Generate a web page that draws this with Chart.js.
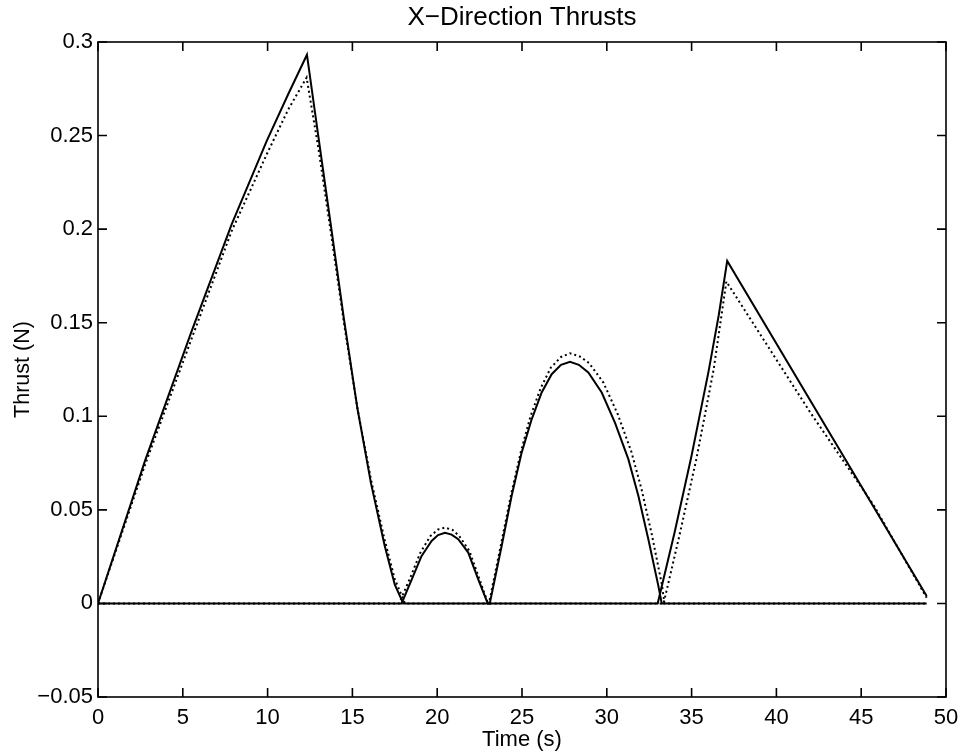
<!DOCTYPE html>
<html>
<head>
<meta charset="utf-8">
<title>X-Direction Thrusts</title>
<script src="https://cdn.jsdelivr.net/npm/chart.js@4.4.1/dist/chart.umd.min.js"></script>
<style>
    html, body { margin: 0; padding: 0; background: #fff; }
    #wrap { width: 962px; height: 753px; position: relative; }
</style>
</head>
<body>
<div id="wrap"><canvas id="thrustChart"></canvas></div>
<script>
// Thruster firing the +X way (solid) and its commanded value (dotted)
const timeA   = [0, 2.77, 5.5, 7.88, 9.95, 11.22, 12.32, 13.0, 13.7, 14.5, 15.3, 16.1, 16.9, 17.5, 18.0,
                 23.1, 23.8, 24.39, 24.98, 25.57, 26.16, 26.75, 27.3, 27.83, 28.35, 28.91, 29.7, 30.48, 31.27, 31.86, 32.45, 33.04, 33.24, 48.86];
const thrustA = [0, 0.0762, 0.145, 0.2025, 0.2472, 0.2722, 0.2932, 0.249, 0.204, 0.152, 0.104, 0.064, 0.031, 0.01, 0,
                 0, 0.0307, 0.0575, 0.0806, 0.0984, 0.1127, 0.1225, 0.1275, 0.1291, 0.1275, 0.1234, 0.1127, 0.0966, 0.0771, 0.0575, 0.0343, 0.0094, 0, 0];

const cmdTimeA = [0, 2.77, 5.5, 7.88, 9.95, 11.22, 12.3, 13.0, 13.7, 14.5, 15.3, 16.1, 16.9, 17.5, 18.1,
                  23.05, 23.75, 24.35, 24.93, 25.5, 26.1, 26.7, 27.3, 27.83, 28.4, 28.95, 29.8, 30.65, 31.45, 32.05, 32.65, 33.25, 33.4, 48.86];
const cmdA     = [0, 0.074, 0.141, 0.199, 0.240, 0.264, 0.281, 0.243, 0.200, 0.150, 0.104, 0.066, 0.034, 0.013, 0,
                  0, 0.031, 0.058, 0.081, 0.100, 0.115, 0.126, 0.1317, 0.1337, 0.132, 0.1285, 0.118, 0.101, 0.081, 0.061, 0.037, 0.010, 0, 0];

// Thruster firing the -X way, plotted as a magnitude
const timeB   = [0, 17.9, 18.5, 19.08, 19.67, 20.05, 20.46, 20.85, 21.24, 21.83, 22.42, 22.98,
                 33.0, 34.0, 35.0, 36.0, 36.6, 37.1, 48.86];
const thrustB = [0, 0, 0.0129, 0.0254, 0.0334, 0.0365, 0.0378, 0.0368, 0.0343, 0.0272, 0.0129, 0,
                 0, 0.038, 0.079, 0.124, 0.154, 0.183, 0.004];

const cmdTimeB = [0, 17.75, 18.4, 19.0, 19.6, 20.05, 20.46, 20.9, 21.3, 21.9, 22.45, 23.0,
                  33.35, 34.3, 35.3, 36.3, 37.05, 42.0, 45.7, 48.86];
const cmdB     = [0, 0, 0.0135, 0.027, 0.036, 0.0395, 0.0405, 0.0393, 0.036, 0.028, 0.014, 0,
                  0, 0.037, 0.078, 0.125, 0.172, 0.102, 0.053, 0.003];

// Axes
const xTicks = [0, 5, 10, 15, 20, 25, 30, 35, 40, 45, 50];
const yTicks = [-0.05, 0, 0.05, 0.1, 0.15, 0.2, 0.25, 0.3];
const chartTitle = 'X\u2212Direction Thrusts';

const FONT = '"Liberation Sans", Arial, Helvetica, sans-serif';

function toPoints(xs, ys) {
    return xs.map((x, i) => ({ x: x, y: ys[i] }));
}

function lineSet(label, xs, ys, dotted) {
    return {
        label: label,
        data: toPoints(xs, ys),
        showLine: true,
        borderColor: '#000',
        borderWidth: 2,
        borderDash: dotted ? [2, 3] : [],
        pointRadius: 0,
        tension: 0,
        fill: false
    };
}

// box round the plot with inward tick marks, and the title over the plot area
const frameTicks = {
    id: 'frameTicks',
    afterDraw(chart) {
        const { ctx, chartArea: a, scales } = chart;
        const len = 9;
        ctx.save();
        ctx.strokeStyle = '#000';
        ctx.lineWidth = 1.6;
        ctx.strokeRect(a.left, a.top, a.right - a.left, a.bottom - a.top);
        ctx.beginPath();
        scales.x.ticks.forEach(t => {
            const px = scales.x.getPixelForValue(t.value);
            ctx.moveTo(px, a.bottom); ctx.lineTo(px, a.bottom - len);
            ctx.moveTo(px, a.top);    ctx.lineTo(px, a.top + len);
        });
        scales.y.ticks.forEach(t => {
            const py = scales.y.getPixelForValue(t.value);
            ctx.moveTo(a.left, py);  ctx.lineTo(a.left + len, py);
            ctx.moveTo(a.right, py); ctx.lineTo(a.right - len, py);
        });
        ctx.stroke();

        ctx.fillStyle = '#000';
        ctx.font = '26px ' + FONT;
        ctx.textAlign = 'center';
        ctx.textBaseline = 'middle';
        ctx.fillText(chartTitle, (a.left + a.right) / 2, 18);
        ctx.restore();
    }
};

document.addEventListener('DOMContentLoaded', function() {
    const ctx = document.getElementById('thrustChart').getContext('2d');
    new Chart(ctx, {
        type: 'scatter',
        data: {
            datasets: [
                lineSet('Thrust +X', timeA, thrustA, false),
                lineSet('Thrust -X', timeB, thrustB, false),
                lineSet('Command +X', cmdTimeA, cmdA, true),
                lineSet('Command -X', cmdTimeB, cmdB, true)
            ]
        },
        options: {
            responsive: true,
            maintainAspectRatio: false,
            animation: false,
            layout: { padding: { left: 0, right: 16, top: 42, bottom: 0 } },
            plugins: {
                legend: { display: false },
                tooltip: { enabled: false },
                title: { display: false }
            },
            scales: {
                x: {
                    type: 'linear',
                    min: 0,
                    max: 50,
                    afterBuildTicks: scale => { scale.ticks = xTicks.map(v => ({ value: v })); },
                    afterFit: scale => {
                        scale.height = 56;
                        scale.paddingLeft = 0;
                        scale.paddingRight = 0;
                    },
                    grid: { display: false, drawTicks: false },
                    border: { display: false },
                    ticks: {
                        color: '#000',
                        padding: 8,
                        maxRotation: 0,
                        font: { family: FONT, size: 22 }
                    },
                    title: {
                        display: true,
                        text: 'Time (s)',
                        color: '#000',
                        font: { family: FONT, size: 22 },
                        padding: { top: 0, bottom: 0 }
                    }
                },
                y: {
                    type: 'linear',
                    min: -0.05,
                    max: 0.3,
                    afterBuildTicks: scale => { scale.ticks = yTicks.map(v => ({ value: v })); },
                    afterFit: scale => { scale.width = 98; },
                    grid: { display: false, drawTicks: false },
                    border: { display: false },
                    ticks: {
                        color: '#000',
                        padding: 5,
                        font: { family: FONT, size: 22 },
                        callback: v => String(Number(v.toFixed(2))).replace('-', '\u2212')
                    },
                    title: {
                        display: true,
                        text: 'Thrust (N)',
                        color: '#000',
                        font: { family: FONT, size: 21.5 },
                        padding: { top: 10, bottom: 0 }
                    }
                }
            }
        },
        plugins: [frameTicks]
    });
});
</script>
</body>
</html>
